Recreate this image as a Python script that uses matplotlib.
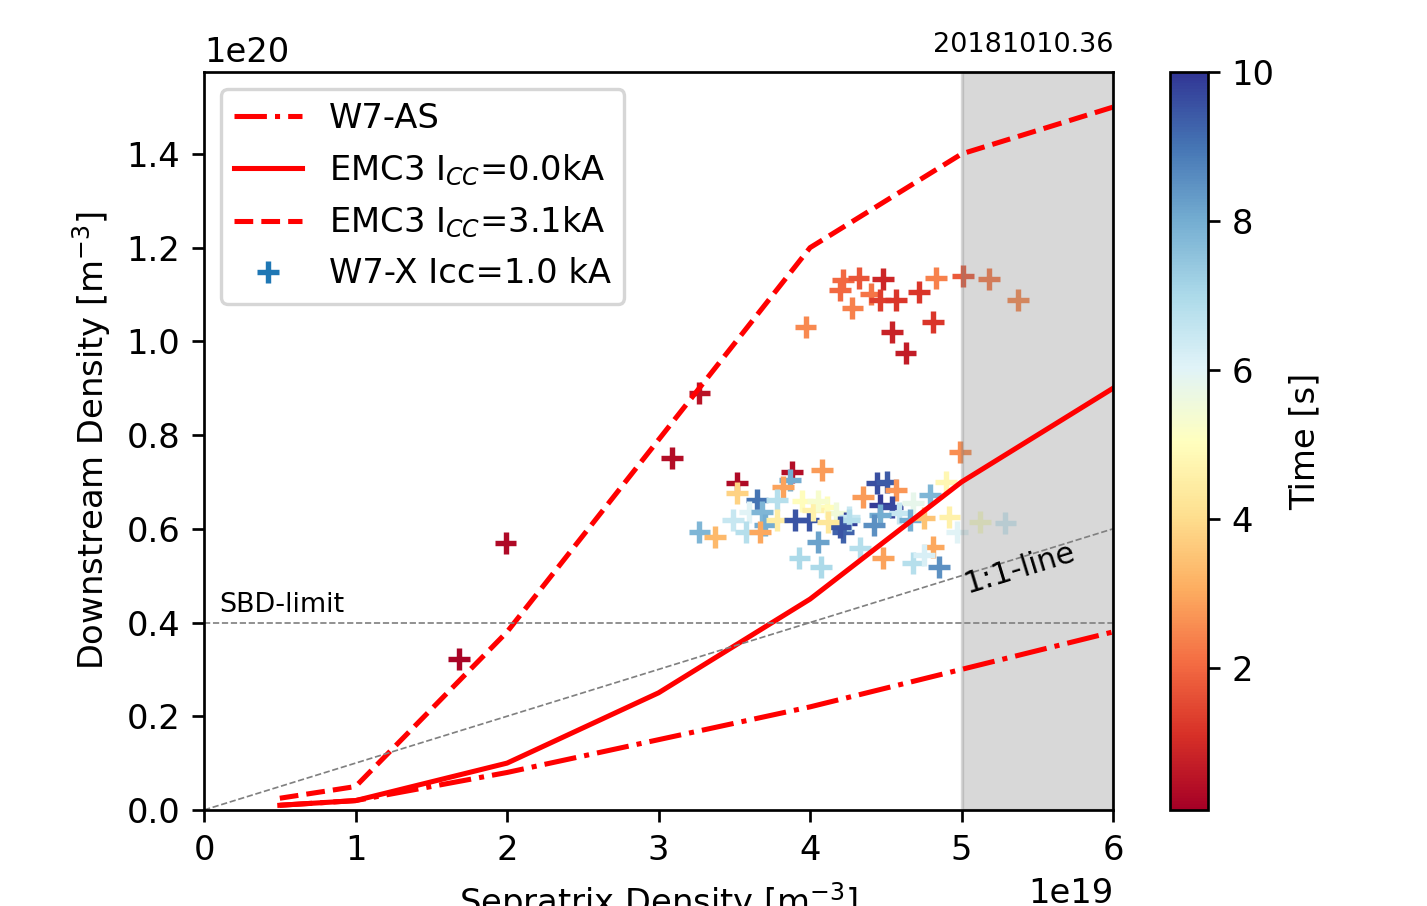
import matplotlib
matplotlib.use('Agg')
import matplotlib.pyplot as plt
from matplotlib.lines import Line2D
import numpy as np

# model curves (x in 1e19, y in 1e20)
ne_sep_model = [0.5, 1, 2, 3, 4, 5, 6]
w7as = [0.01, 0.02, 0.08, 0.15, 0.22, 0.30, 0.38]
emc3_0ka = [0.01, 0.02, 0.10, 0.25, 0.45, 0.70, 0.90]
emc3_31ka = [0.025, 0.05, 0.38, 0.79, 1.20, 1.40, 1.50]

# W7-X measurements
sep_density = [
    1.68, 1.99, 3.09, 3.27,
    3.97, 4.22, 4.32, 4.20, 4.28, 4.48, 4.40, 4.46, 4.57, 4.72, 4.83, 4.54,
    4.81, 4.63, 5.01, 5.18, 5.37,
    3.52, 3.88, 4.08, 3.87, 3.82, 3.52, 3.65, 3.78, 3.49, 3.60, 3.68, 3.27,
    3.37, 3.58, 3.70, 3.78, 3.90, 3.99, 3.95, 4.05, 3.93, 4.07, 4.11, 4.17,
    4.24, 4.22, 4.26, 4.99, 4.44, 4.51, 4.57, 4.35, 4.46, 4.54, 4.90, 4.79,
    4.68, 4.59, 4.46, 4.26, 4.20, 4.42, 4.66, 4.75, 4.92, 4.97, 5.12, 5.29,
    4.33, 4.48, 4.81, 4.68, 4.75, 4.85, 3.67, 4.02, 4.12, 4.05,
]
down_density = [
    0.322, 0.570, 0.751, 0.890,
    1.031, 1.131, 1.135, 1.110, 1.071, 1.133, 1.101, 1.088, 1.088, 1.105, 1.135, 1.020,
    1.041, 0.975, 1.139, 1.133, 1.088,
    0.698, 0.721, 0.726, 0.704, 0.690, 0.676, 0.662, 0.662, 0.619, 0.636, 0.636, 0.593,
    0.583, 0.593, 0.608, 0.619, 0.619, 0.619, 0.660, 0.572, 0.538, 0.519, 0.647, 0.634,
    0.613, 0.593, 0.625, 0.764, 0.698, 0.700, 0.683, 0.668, 0.651, 0.647, 0.700, 0.672,
    0.655, 0.634, 0.630, 0.619, 0.604, 0.608, 0.619, 0.623, 0.625, 0.593, 0.615, 0.612,
    0.559, 0.538, 0.561, 0.527, 0.544, 0.519, 0.593, 0.640, 0.615, 0.660,
]
time_s = [
    0.2, 0.3, 0.4, 0.5,
    2.5, 2.0, 1.7, 2.0, 2.4, 0.9, 2.2, 1.3, 1.2, 1.2, 2.4, 0.8,
    1.2, 0.7, 1.8, 2.3, 2.5,
    0.3, 0.4, 2.8, 8.0, 2.9, 3.8, 9.0, 6.8, 6.5, 6.0, 7.8, 7.8,
    3.3, 6.8, 8.0, 4.5, 9.5, 9.5, 5.0, 8.2, 7.0, 7.0, 5.0, 5.5,
    9.8, 9.3, 6.5, 2.6, 9.6, 9.4, 2.7, 2.8, 9.9, 9.7, 4.8, 7.8,
    5.8, 6.5, 8.0, 6.8, 9.5, 8.5, 8.0, 3.5, 4.6, 6.0, 5.3, 6.3,
    6.8, 2.9, 3.0, 6.8, 6.2, 8.5, 3.0, 4.6, 4.3, 5.3,
]

x_model = np.array(ne_sep_model) * 1e19

dpi = 243
fig = plt.figure(figsize=(1427 / dpi, 906 / dpi), dpi=dpi)
ax = fig.add_axes([0.143, 0.106, 0.637, 0.8146])
cax = fig.add_axes([0.8199, 0.106, 0.0266, 0.8146])

sc = ax.scatter(np.array(sep_density) * 1e19, np.array(down_density) * 1e20,
                c=time_s, cmap='RdYlBu', vmin=0.1, vmax=10, marker='+',
                s=42, linewidths=1.6)
ax.axvspan(5e19, 6e19, color='grey', alpha=0.3)

ax.plot(x_model, np.array(w7as) * 1e20, 'r-.', lw=1.5)
ax.plot(x_model, np.array(emc3_0ka) * 1e20, 'r-', lw=1.5)
ax.plot(x_model, np.array(emc3_31ka) * 1e20, 'r--', lw=1.5)

ax.plot([0, 6e19], [0, 0.6e20], '--', color='grey', lw=0.5)
ax.axhline(0.4e20, ls='--', color='grey', lw=0.5)
ax.text(0.1e19, 0.41e20, 'SBD-limit', fontsize=8, va='bottom')
ax.text(5.05e19, 0.45e20, '1:1-line', fontsize=9, rotation=17,
        rotation_mode='anchor', ha='left', va='bottom')

ax.set_xlim(0, 6e19)
ax.set_ylim(0, 1.575e20)
ax.set_xlabel('Sepratrix Density [m$^{-3}$]')
ax.set_ylabel('Downstream Density [m$^{-3}$]')
ax.set_title('20181010.36', loc='right', fontsize=8)

handles = [
    Line2D([], [], color='r', ls='-.', lw=1.5),
    Line2D([], [], color='r', ls='-', lw=1.5),
    Line2D([], [], color='r', ls='--', lw=1.5),
    Line2D([], [], color='tab:blue', ls='', marker='+', markersize=6.5, mew=1.6),
]
labels = ['W7-AS', 'EMC3 I$_{CC}$=0.0kA', 'EMC3 I$_{CC}$=3.1kA', 'W7-X Icc=1.0 kA']
ax.legend(handles, labels, loc='upper left')

cb = fig.colorbar(sc, cax=cax)
cb.set_label('Time [s]')
cb.set_ticks([2, 4, 6, 8, 10])

fig.savefig('out.png', dpi=dpi)
